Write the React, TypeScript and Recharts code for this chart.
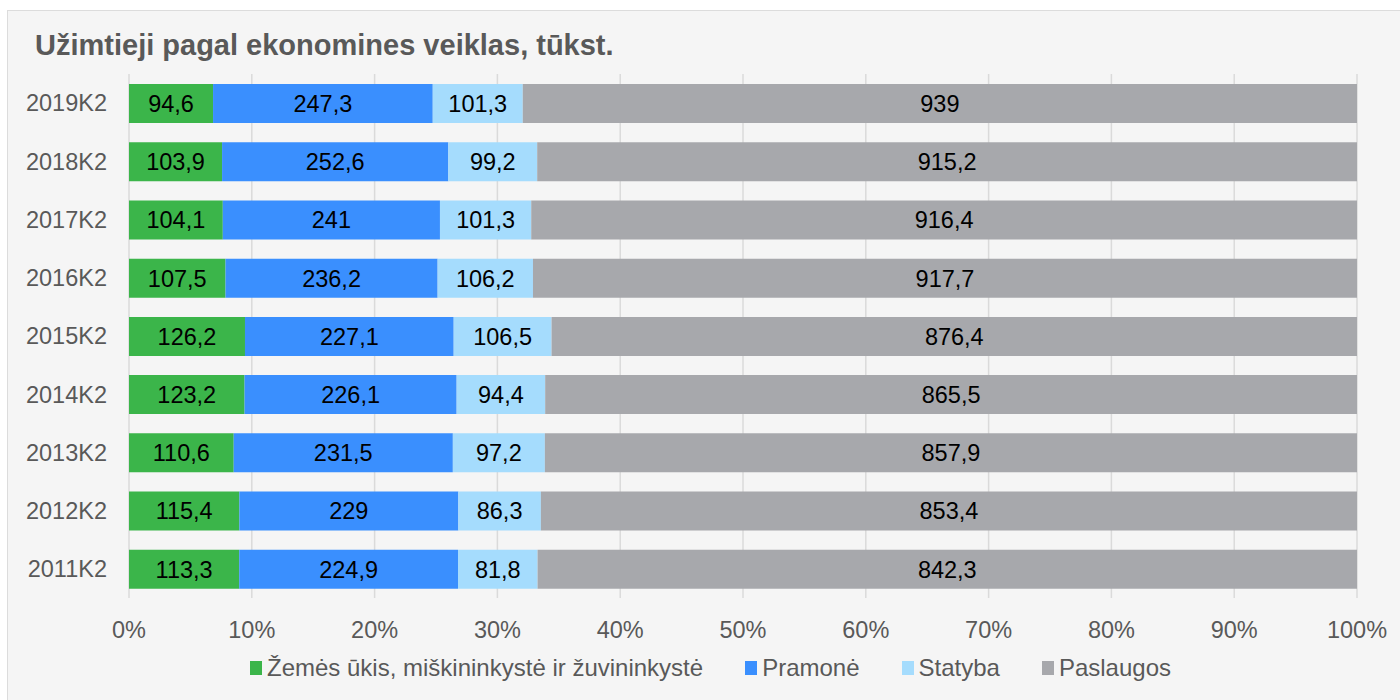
import { BarChart, Bar, XAxis, YAxis, CartesianGrid, Legend, LabelList } from 'recharts';

const quarters = ['2019K2', '2018K2', '2017K2', '2016K2', '2015K2', '2014K2', '2013K2', '2012K2', '2011K2'];
const agriculture = [94.6, 103.9, 104.1, 107.5, 126.2, 123.2, 110.6, 115.4, 113.3];
const industry = [247.3, 252.6, 241, 236.2, 227.1, 226.1, 231.5, 229, 224.9];
const construction = [101.3, 99.2, 101.3, 106.2, 106.5, 94.4, 97.2, 86.3, 81.8];
const services = [939, 915.2, 916.4, 917.7, 876.4, 865.5, 857.9, 853.4, 842.3];
const percentTicks = [0, 0.1, 0.2, 0.3, 0.4, 0.5, 0.6, 0.7, 0.8, 0.9, 1];

const series = [
  { key: 'agriculture', name: 'Žemės ūkis, miškininkystė ir žuvininkystė', color: '#3bb54a' },
  { key: 'industry', name: 'Pramonė', color: '#3a8ffe' },
  { key: 'construction', name: 'Statyba', color: '#a5dcfd' },
  { key: 'services', name: 'Paslaugos', color: '#a7a8ac' },
];

const data = quarters.map((q, i) => ({
  quarter: q,
  agriculture: agriculture[i],
  industry: industry[i],
  construction: construction[i],
  services: services[i],
}));

const FONT = '"Liberation Sans", Arial, sans-serif';
const GREY = '#595959';

const fmt = (v: any) => String(v).replace('.', ',');

function LegendBox() {
  return (
    <div
      style={{
        height: 40,
        display: 'flex',
        alignItems: 'center',
        justifyContent: 'center',
        paddingLeft: 64,
        gap: 42,
        fontFamily: FONT,
        fontSize: 24,
        color: GREY,
      }}
    >
      {series.map((s) => (
        <div key={s.key} style={{ display: 'flex', alignItems: 'center' }}>
          <span style={{ width: 12, height: 14, background: s.color, marginRight: 5, display: 'inline-block' }} />
          <span>{s.name}</span>
        </div>
      ))}
    </div>
  );
}

export default function App() {
  return (
    <div style={{ position: 'absolute', left: 0, top: 0, width: 1400, height: 700, background: '#fff', overflow: 'hidden' }}>
      <div
        style={{
          position: 'absolute',
          left: 7,
          top: 10,
          width: 1420,
          height: 720,
          background: '#f5f5f5',
          border: '1px solid #dcdcdc',
        }}
      />
      <div
        style={{
          position: 'absolute',
          left: 35,
          top: 28,
          fontFamily: FONT,
          fontWeight: 'bold',
          fontSize: 29,
          color: GREY,
          lineHeight: '34px',
        }}
      >
        Užimtieji pagal ekonomines veiklas, tūkst.
      </div>
      <div style={{ position: 'absolute', left: 0, top: 0 }}>
        <BarChart
          width={1400}
          height={700}
          data={data}
          layout="vertical"
          stackOffset="expand"
          margin={{ top: 74, right: 43, left: 0, bottom: 12 }}
        >
          <CartesianGrid horizontal={false} stroke="#dadada" strokeWidth={1.5} />
          <XAxis
            type="number"
            domain={[0, 1]}
            ticks={percentTicks}
            tickFormatter={(v: number) => `${Math.round(v * 100)}%`}
            axisLine={false}
            tickLine={false}
            tickSize={0}
            tickMargin={23}
            height={50}
            tick={{ fill: GREY, fontSize: 23.5, fontFamily: FONT }}
          />
          <YAxis
            type="category"
            dataKey="quarter"
            width={129}
            axisLine={false}
            tickLine={false}
            tickSize={0}
            tickMargin={22}
            tick={{ fill: GREY, fontSize: 23.5, fontFamily: FONT }}
          />
          <Legend verticalAlign="bottom" content={() => <LegendBox />} />
          {series.map((s) => (
            <Bar key={s.key} dataKey={s.key} name={s.name} stackId="a" fill={s.color} barSize={39} isAnimationActive={false}>
              <LabelList
                dataKey={s.key}
                position="center"
                formatter={fmt}
                style={{ fill: '#000', fontSize: 23.5, fontFamily: FONT }}
              />
            </Bar>
          ))}
        </BarChart>
      </div>
    </div>
  );
}
